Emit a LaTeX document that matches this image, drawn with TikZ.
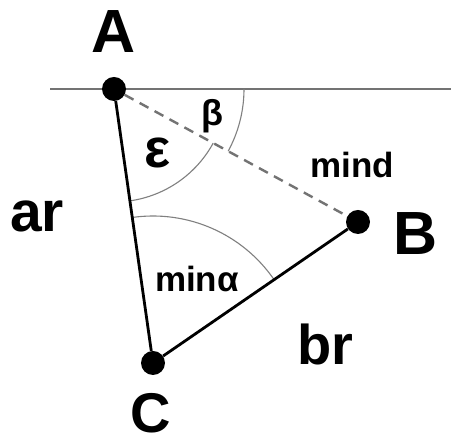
\documentclass[tikz,border=0pt]{standalone}
\usepackage{fontspec}
\setmainfont{Liberation Sans}
\begin{document}
\begin{tikzpicture}[x=1pt,y=1pt,
  dot/.style={circle,fill=black,inner sep=0pt,minimum size=24pt},
  solidline/.style={line width=2.8pt,black},
  dashline/.style={line width=2.4pt,draw=black!55,dash pattern=on 10pt off 7pt},
  refline/.style={line width=1.4pt,draw=black!55},
  anglearc/.style={line width=1.1pt,draw=black!50},
  lbl/.style={inner sep=0pt,anchor=base,font=\bfseries\fontsize{#1}{#1}\selectfont},
]
\useasboundingbox (0,0) rectangle (451,446);
\fill[white] (0,0) rectangle (451,446);
% reference line
\coordinate (L0) at (50,357);
\coordinate (L1) at (451,357);
\draw[refline] (L0) -- (L1);
% points
\node[dot] (A) at (114,357) {};
\node[dot] (B) at (358,224) {};
\node[dot] (C) at (153,83) {};
% angle arcs
\draw[anglearc] (A.center) ++(0:130pt) arc[start angle=0,end angle=-28.6,radius=130pt];
\draw[anglearc] (A.center) ++(-81.9:113pt) arc[start angle=-81.9,end angle=-28.6,radius=113pt];
\draw[anglearc] (C.center) ++(34.5:147pt) arc[start angle=34.5,end angle=98.1,radius=147pt];
% connectors
\draw[dashline] (A) -- (B);
\draw[solidline] (A) -- (C);
\draw[solidline] (C) -- (B);
% labels
\node[lbl=61] (tA) at (114,393) {A};
\node[lbl=61] (tB) at (416,191) {B};
\node[lbl=56] (tC) at (151,13) {C};
\node[lbl=57] (tar) at (37,214) {ar};
\node[lbl=56] (tbr) at (325,81) {br};
\node[lbl=35] (tmind) at (352,268) {mind};
\node[lbl=35] (tmina) at (197,154) {minα};
\node[lbl=55] (teps) at (158,278) {ε};
\node[lbl=36] (tbeta) at (212,320) {β};
\end{tikzpicture}
\end{document}
